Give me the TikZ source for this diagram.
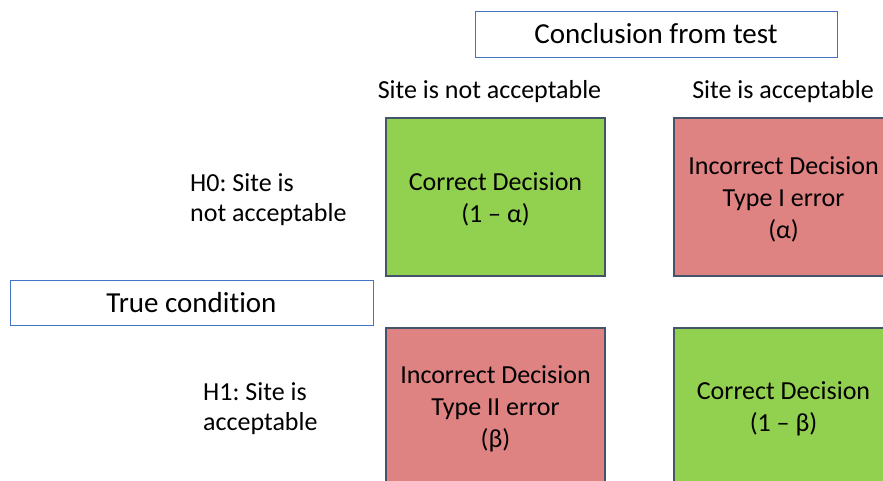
\documentclass[tikz,border=0pt]{standalone}
\usepackage{fontspec}
\setmainfont{Carlito}[Ligatures=NoCommon]
\frenchspacing
\definecolor{okgreen}{HTML}{92D050}
\definecolor{errred}{HTML}{DF8282}
\definecolor{cellborder}{HTML}{44546A}
\definecolor{headborder}{HTML}{4472C4}
\begin{document}
\begin{tikzpicture}[x=1pt,y=-1pt,
  header/.style={draw=headborder, line width=1pt, fill=white, inner sep=0pt, font=\fontsize{29}{34}\selectfont},
  cell/.style={draw=cellborder, line width=1.3pt, minimum width=219pt, minimum height=158pt, inner sep=0pt},
  good/.style={cell, fill=okgreen},
  bad/.style={cell, fill=errred},
  celltext/.style={inner sep=0pt, align=center, font=\fontsize{26}{32}\selectfont},
  label/.style={inner sep=0pt, font=\fontsize{26}{30}\selectfont}]
\useasboundingbox (0,0) rectangle (883,480);
\clip (0,0) rectangle (883,480);
\fill[white] (0,0) rectangle (883,480);

% headers
\node[header, minimum width=362pt, minimum height=46pt] (concl) at (656,34) {Conclusion from test};
\node[header, minimum width=363pt, minimum height=45pt] (truec) at (191.5,302.5) {True condition};

% column labels
\node[label] (colno) at (489.5,92) {Site is not acceptable};
\node[label] (colyes) at (783,92) {Site is acceptable};

% row labels
\node[label, align=left, anchor=west] (rowh0) at (190,200) {H0: Site is\\not acceptable};
\node[label, align=left, anchor=west] (rowh1) at (203,409) {H1: Site is\\acceptable};

% decision cells
\node[good] (tn) at (495.5,197) {};
\node[bad] (fp) at (783.5,197) {};
\node[bad] (fn) at (495.5,407) {};
\node[good] (tp) at (783.5,407) {};

% cell texts
\node[celltext] (tntext) at ([yshift=-2pt]tn.center) {Correct Decision\\(1 – α)};
\node[celltext] (fptext) at ([yshift=-2pt]fp.center) {Incorrect Decision\\Type I error\\(α)};
\node[celltext] (fntext) at ([yshift=-2pt]fn.center) {Incorrect Decision\\Type II error\\(β)};
\node[celltext] (tptext) at ([yshift=-2pt]tp.center) {Correct Decision\\(1 – β)};
\end{tikzpicture}
\end{document}
